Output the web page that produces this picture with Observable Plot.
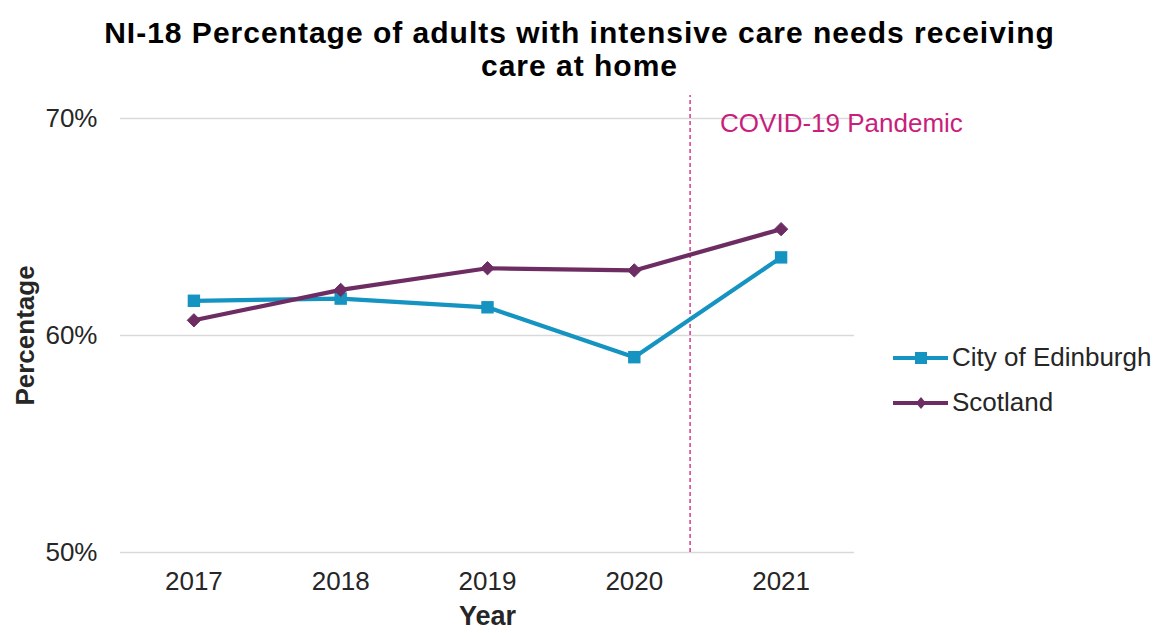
<!DOCTYPE html>
<html>
<head>
<meta charset="utf-8">
<script src="https://cdn.jsdelivr.net/npm/d3@7"></script>
<script src="https://cdn.jsdelivr.net/npm/@observablehq/plot@0.6"></script>
<style>
  body { margin: 0; background: #fff; font-family: "Liberation Sans", Arial, sans-serif; }
  #wrap { position: relative; width: 1159px; height: 633px; }
  #title { height: 90px; box-sizing: border-box; padding-top: 16px; text-align: center; font-weight: bold; font-size: 30px; letter-spacing: 1px; line-height: 33px; color: #000; white-space: nowrap; }
  .leg { position: absolute; left: 892px; font-size: 26px; color: #262626; display: flex; align-items: center; white-space: nowrap; }
  .leg svg { margin-right: 3px; }
</style>
</head>
<body>
<div id="wrap">
  <div id="title">NI-18 Percentage of adults with intensive care needs receiving<br>care at home</div>
  <div id="chart"></div>
  <div class="leg" style="top:342px">
    <svg width="57" height="30"><line x1="1" x2="56" y1="15" y2="15" stroke="#1593c1" stroke-width="4"/><rect x="23" y="9" width="12" height="12" fill="#1593c1"/></svg>City of Edinburgh</div>
  <div class="leg" style="top:387px">
    <svg width="57" height="30"><line x1="1" x2="56" y1="15" y2="15" stroke="#6d2d63" stroke-width="4"/><path d="M29,9 L34,15 L29,21 L24,15 Z" fill="#6d2d63"/></svg>Scotland</div>
</div>
<script>
const years = [2017, 2018, 2019, 2020, 2021];
const edinburgh = [61.6, 61.7, 61.3, 59.0, 63.6];
const scotland = [60.7, 62.1, 63.1, 63.0, 64.9];
const yTicks = [50, 60, 70];
const covidX = 2020.38;
const covidLabel = "COVID-19 Pandemic";

const edi = years.map((y, i) => ({year: y, value: edinburgh[i]}));
const sco = years.map((y, i) => ({year: y, value: scotland[i]}));

const cEdi = "#1593c1", cSco = "#6d2d63", cPink = "#c81e7d";
const fmtYear = d => String(d);
const fmtPct = d => d + "%";

const chart = Plot.plot({
  width: 1159,
  height: 543,
  marginTop: 28,
  marginBottom: 81,
  marginLeft: 120,
  marginRight: 305,
  style: {fontFamily: "'Liberation Sans', Arial, sans-serif", fontSize: "26px", color: "#262626", background: "#fff"},
  x: {domain: [2016.5, 2021.5], ticks: years, tickFormat: fmtYear},
  y: {domain: [50, 70], ticks: yTicks, tickFormat: fmtPct},
  marks: [
    Plot.gridY(yTicks, {stroke: "#d9d9d9", strokeOpacity: 1, strokeWidth: 1.3}),
    Plot.axisX({ticks: years, tickFormat: fmtYear, tickSize: 0, tickPadding: 19, label: null, fontSize: 26}),
    Plot.axisY({ticks: yTicks, tickFormat: fmtPct, tickSize: 0, tickPadding: 23, label: null, fontSize: 26}),
    Plot.text(["Year"], {frameAnchor: "bottom", dy: 72, fontWeight: "bold", fontSize: 27, fill: "#262626"}),
    Plot.text(["Percentage"], {frameAnchor: "left", textAnchor: "middle", dx: -95, rotate: -90, fontWeight: "bold", fontSize: 26, fill: "#262626"}),
    Plot.ruleX([covidX], {y1: 50, y2: 71.06, stroke: cPink, strokeWidth: 1.3, strokeDasharray: "4,3"}),
    Plot.text([covidLabel], {x: covidX, y: 70, dx: 30, dy: 5, textAnchor: "start", fill: cPink, fontSize: 26}),
    Plot.line(edi, {x: "year", y: "value", stroke: cEdi, strokeWidth: 4.2}),
    Plot.dot(edi, {x: "year", y: "value", symbol: "square", r: 7, fill: cEdi}),
    Plot.line(sco, {x: "year", y: "value", stroke: cSco, strokeWidth: 4.2}),
    Plot.dot(sco, {x: "year", y: "value", symbol: "diamond2", r: 6, fill: cSco, stroke: cSco, strokeWidth: 1})
  ]
});
document.getElementById("chart").appendChild(chart);
</script>
</body>
</html>
